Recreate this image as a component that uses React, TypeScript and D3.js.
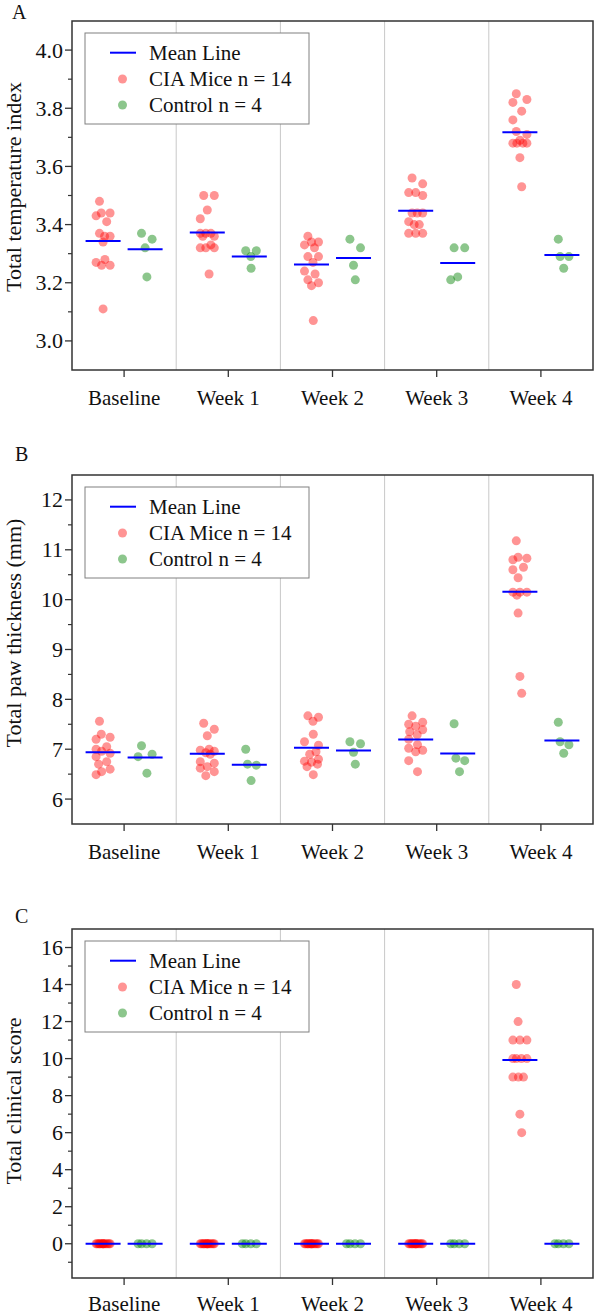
import React from "react";
import * as d3 from "d3";

// ---------- data ----------
const categories = ["Baseline", "Week 1", "Week 2", "Week 3", "Week 4"];
const legendLabels = ["Mean Line", "CIA Mice n = 14", "Control n = 4"];

const tempCIA = [
  [3.48, 3.44, 3.44, 3.43, 3.41, 3.37, 3.36, 3.34, 3.28, 3.27, 3.26, 3.26, 3.11, 3.36],
  [3.5, 3.5, 3.45, 3.42, 3.37, 3.37, 3.37, 3.36, 3.36, 3.33, 3.32, 3.32, 3.32, 3.23],
  [3.36, 3.34, 3.34, 3.33, 3.32, 3.29, 3.29, 3.27, 3.24, 3.23, 3.21, 3.2, 3.19, 3.07],
  [3.56, 3.54, 3.51, 3.51, 3.5, 3.44, 3.44, 3.44, 3.41, 3.4, 3.4, 3.37, 3.37, 3.37],
  [3.85, 3.83, 3.82, 3.79, 3.76, 3.72, 3.71, 3.69, 3.68, 3.68, 3.68, 3.68, 3.63, 3.53],
];
const tempControl = [
  [3.37, 3.35, 3.32, 3.22],
  [3.31, 3.31, 3.29, 3.25],
  [3.35, 3.32, 3.26, 3.21],
  [3.32, 3.32, 3.22, 3.21],
  [3.35, 3.29, 3.29, 3.25],
];

const pawCIA = [
  [7.56, 7.3, 7.24, 7.2, 7.05, 7.0, 6.96, 6.92, 6.85, 6.75, 6.7, 6.6, 6.55, 6.49],
  [7.52, 7.4, 7.27, 7.0, 6.98, 6.96, 6.93, 6.9, 6.75, 6.72, 6.65, 6.62, 6.55, 6.47],
  [7.67, 7.64, 7.56, 7.3, 7.15, 7.08, 6.9, 6.95, 6.8, 6.76, 6.74, 6.7, 6.65, 6.49],
  [7.67, 7.54, 7.5, 7.46, 7.39, 7.35, 7.29, 7.2, 7.09, 7.02, 6.98, 6.95, 6.77, 6.55],
  [11.18, 10.85, 10.83, 10.8, 10.65, 10.6, 10.44, 10.15, 10.15, 10.15, 10.09, 9.73, 8.46, 8.12],
];
const pawControl = [
  [7.07, 6.9, 6.85, 6.52],
  [7.0, 6.7, 6.68, 6.37],
  [7.15, 7.11, 6.94, 6.7],
  [7.51, 6.82, 6.77, 6.55],
  [7.54, 7.15, 7.09, 6.92],
];

const scoreCIA = [
  [0, 0, 0, 0, 0, 0, 0, 0, 0, 0, 0, 0, 0, 0],
  [0, 0, 0, 0, 0, 0, 0, 0, 0, 0, 0, 0, 0, 0],
  [0, 0, 0, 0, 0, 0, 0, 0, 0, 0, 0, 0, 0, 0],
  [0, 0, 0, 0, 0, 0, 0, 0, 0, 0, 0, 0, 0, 0],
  [14, 12, 11, 11, 11, 10, 10, 10, 10, 9, 9, 9, 7, 6],
];
const scoreControl = [
  [0, 0, 0, 0],
  [0, 0, 0, 0],
  [0, 0, 0, 0],
  [0, 0, 0, 0],
  [0, 0, 0, 0],
];

// ---------- layout ----------
const W = 596;
const H = 1315;
const LEFT = 72;
const RIGHT = 593;
const PH = 349;
const FONT = '"Liberation Serif", "Times New Roman", "DejaVu Serif", serif';
const RED = "#ff0000";
const GREEN = "#008000";
const BLUE = "#0000ff";
const FRAME = "#333333";

const panels = [
  {
    letter: "A", title: "Total temperature index", cia: tempCIA, ctrl: tempControl,
    domain: [2.9, 4.1], major: [3.0, 3.2, 3.4, 3.6, 3.8, 4.0], minorStep: 0.1, fmt: d3.format(".1f"),
    top: 21, letterX: 12, letterY: 18.5, titleC: 187, xLab: 35,
  },
  {
    letter: "B", title: "Total paw thickness (mm)", cia: pawCIA, ctrl: pawControl,
    domain: [5.5, 12.5], major: [6, 7, 8, 9, 10, 11, 12], minorStep: 0.5, fmt: d3.format("d"),
    top: 475, letterX: 15, letterY: 461, titleC: 633, xLab: 35,
  },
  {
    letter: "C", title: "Total clinical score", cia: scoreCIA, ctrl: scoreControl,
    domain: [-1.85, 17], major: [0, 2, 4, 6, 8, 10, 12, 14, 16], minorStep: 1, fmt: d3.format("d"),
    top: 929, letterX: 15, letterY: 923, titleC: 1101, xLab: 33,
  },
];

const CAND = [0, -1.5, 1.5, -3, 3, -4.5, 4.5, -6, 6, -7, 7];

function minDist(placed: { x: number; y: number }[], cx: number, cy: number) {
  let m = Infinity;
  for (const p of placed) {
    const d = Math.hypot(p.x - cx, p.y - cy);
    if (d < m) m = d;
  }
  return m;
}

function dodge(ys: number[]): number[] {
  const placed: { x: number; y: number }[] = [];
  const out: number[] = [];
  ys.forEach((yv, idx) => {
    const soft = ((idx % 5) - 2) * 1.8;
    let best = soft;
    if (minDist(placed, soft, yv) < 9) {
      let bestD = -1;
      for (const c of CAND) {
        const m = minDist(placed, c, yv);
        if (m > bestD + 1e-9) {
          bestD = m;
          best = c;
        }
      }
    }
    placed.push({ x: best, y: yv });
    out.push(best);
  });
  return out;
}

const txt = { fontFamily: FONT };

function Panel({ cfg }: { cfg: any }) {
  const x = d3.scaleBand<string>().domain(categories).range([LEFT, RIGHT]).padding(0);
  const sub = d3.scalePoint<string>().domain(["cia", "ctrl"]).range([0, x.bandwidth()]).padding(0.74);
  const top = cfg.top;
  const bottom = top + PH;
  const y = d3.scaleLinear().domain(cfg.domain).range([bottom, top]);

  const minor: number[] = [];
  const k0 = Math.ceil(cfg.domain[0] / cfg.minorStep - 1e-9);
  const k1 = Math.floor(cfg.domain[1] / cfg.minorStep + 1e-9);
  for (let k = k0; k <= k1; k++) {
    const v = +(k * cfg.minorStep).toFixed(6);
    if (v <= cfg.domain[0] + 1e-9 || v >= cfg.domain[1] - 1e-9) continue;
    if (cfg.major.some((m: number) => Math.abs(m - v) < 1e-6)) continue;
    minor.push(v);
  }

  const groups = [
    { key: "cia", data: cfg.cia, color: RED, op: 0.42 },
    { key: "ctrl", data: cfg.ctrl, color: GREEN, op: 0.45 },
  ];

  const lgTop = top + 12;
  const rows = [top + 31.7, top + 58, top + 84];

  return (
    <g>
      {categories.slice(1).map((c) => (
        <line key={c} x1={x(c)} x2={x(c)} y1={top} y2={bottom} stroke="#c8c8c8" strokeWidth={1} />
      ))}
      {categories.map((c, ci) =>
        groups.map((g) => {
          const vals: number[] = g.data[ci];
          const cx = (x(c) as number) + (sub(g.key) as number);
          const offs = dodge(vals.map((v) => y(v)));
          return (
            <g key={c + g.key}>
              {vals.map((v, i) => (
                <circle key={i} cx={cx + offs[i]} cy={y(v)} r={4.5} fill={g.color} fillOpacity={g.op} />
              ))}
            </g>
          );
        })
      )}
      {categories.map((c, ci) =>
        groups.map((g) => {
          const cx = (x(c) as number) + (sub(g.key) as number);
          const m = d3.mean(g.data[ci] as number[]) as number;
          return (
            <line key={"m" + c + g.key} x1={cx - 17.5} x2={cx + 17.5} y1={y(m)} y2={y(m)} stroke={BLUE} strokeWidth={2} />
          );
        })
      )}
      <rect x={LEFT} y={top} width={RIGHT - LEFT} height={PH} fill="none" stroke={FRAME} strokeWidth={1.5} />
      {cfg.major.map((t: number) => (
        <g key={"t" + t}>
          <line x1={LEFT - 7} x2={LEFT} y1={y(t)} y2={y(t)} stroke={FRAME} strokeWidth={1.3} />
          <text x={LEFT - 9} y={y(t)} dy="0.34em" textAnchor="end" style={txt} fontSize={22} fill="#111">
            {cfg.fmt(t)}
          </text>
        </g>
      ))}
      {minor.map((t) => (
        <line key={"mn" + t} x1={LEFT - 4} x2={LEFT} y1={y(t)} y2={y(t)} stroke={FRAME} strokeWidth={1.2} />
      ))}
      {categories.map((c) => {
        const cx = (x(c) as number) + x.bandwidth() / 2;
        return (
          <g key={"x" + c}>
            <line x1={cx} x2={cx} y1={bottom} y2={bottom + 7} stroke={FRAME} strokeWidth={1.3} />
            <text x={cx} y={bottom + cfg.xLab} textAnchor="middle" style={txt} fontSize={21} fill="#111">
              {c}
            </text>
          </g>
        );
      })}
      <text transform="rotate(-90)" x={-cfg.titleC} y={21} textAnchor="middle" style={txt} fontSize={22} fill="#111">
        {cfg.title}
      </text>
      <text x={cfg.letterX} y={cfg.letterY} style={txt} fontSize={20} fill="#111">
        {cfg.letter}
      </text>
      <g>
        <rect x={LEFT + 13} y={lgTop} width={224} height={91} fill="#fff" stroke="#808080" strokeWidth={1} />
        <line x1={110} x2={136} y1={rows[0]} y2={rows[0]} stroke={BLUE} strokeWidth={2} />
        <circle cx={122.5} cy={rows[1]} r={4.5} fill={RED} fillOpacity={0.42} />
        <circle cx={122.5} cy={rows[2]} r={4.5} fill={GREEN} fillOpacity={0.45} />
        {legendLabels.map((l, i) => (
          <text key={l} x={149} y={rows[i]} dy="0.34em" style={txt} fontSize={21} fill="#111">
            {l}
          </text>
        ))}
      </g>
    </g>
  );
}

export default function App() {
  return (
    <>
      <style>{"body{margin:0;}"}</style>
      <svg width={W} height={H} style={{ display: "block", background: "#fff" }}>
        {panels.map((p) => (
          <Panel key={p.letter} cfg={p} />
        ))}
      </svg>
    </>
  );
}
